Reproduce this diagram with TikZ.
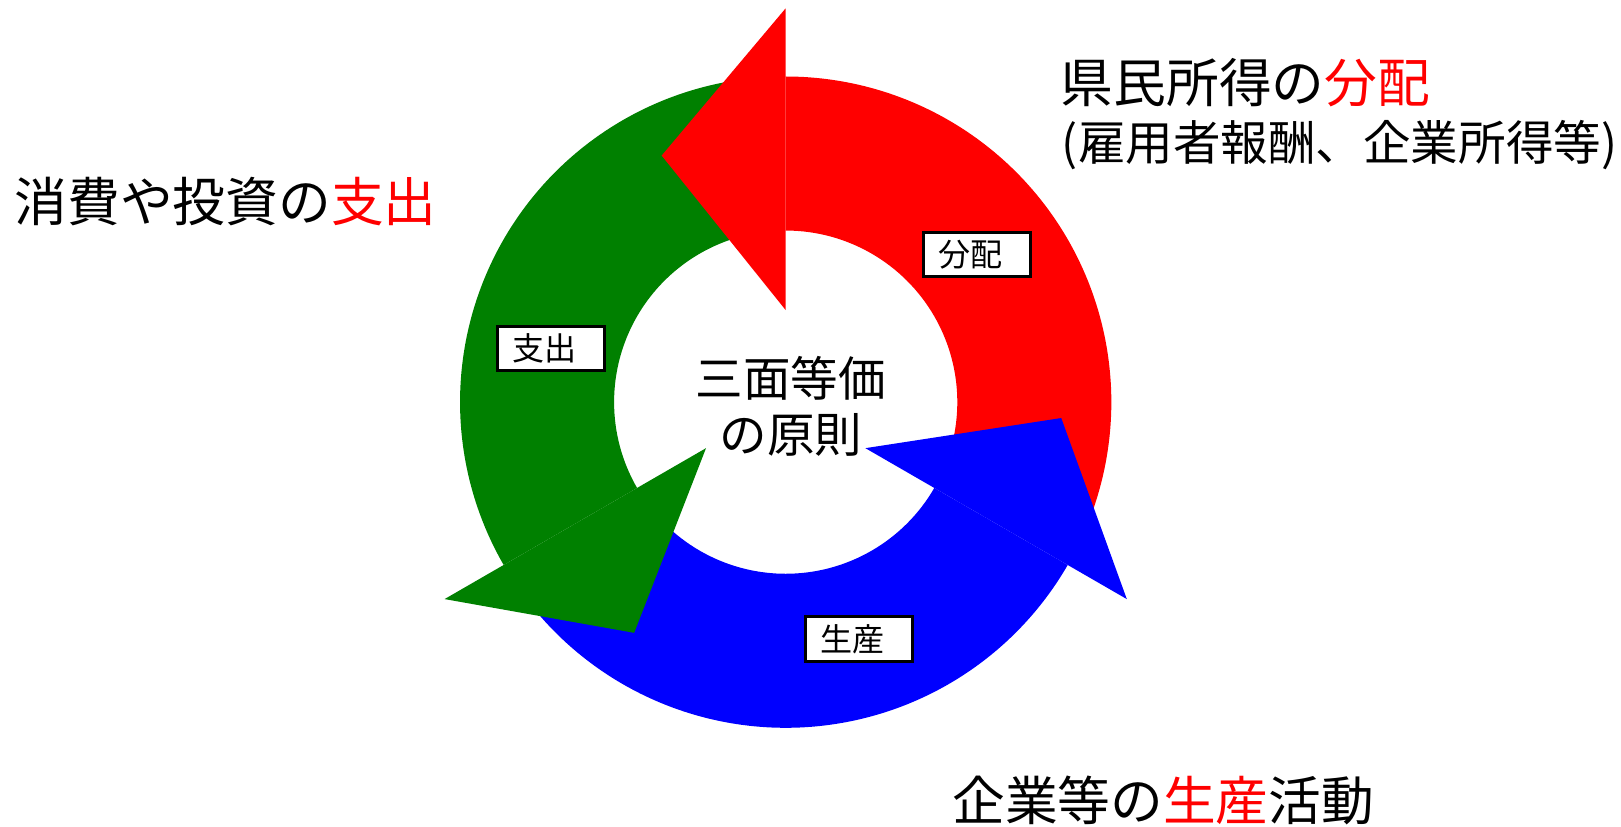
\documentclass[tikz,border=0pt]{standalone}
\usepackage{fontspec}
\newfontfamily\jp{Noto Sans CJK JP}
\definecolor{ared}{RGB}{255,0,0}
\definecolor{agreen}{RGB}{0,128,0}
\definecolor{ablue}{RGB}{0,0,255}
\begin{document}
\begin{tikzpicture}[x=1pt,y=1pt,
  lbl/.style={draw=black, line width=3pt, fill=white, font=\jp\fontsize{31}{36}\selectfont,
    text width=74pt, align=left, inner xsep=15pt, inner ysep=0pt, minimum height=43pt},
  big/.style={font=\jp\fontsize{51}{60}\selectfont, inner sep=0pt, anchor=west},
  mid/.style={font=\jp\fontsize{46}{54}\selectfont, inner sep=0pt, anchor=west},
  centre/.style={font=\jp\fontsize{46}{54}\selectfont, inner sep=0pt, align=center}]
\useasboundingbox (0,0) rectangle (1568,-799);
\begin{scope}[shift={(760,-389)}]
  % arrow bodies (ring sectors)
  \foreach \a/\c in {0/ared,120/agreen,240/ablue}{
    \fill[\c] ({\a-20}:315pt) arc[start angle=\a-20, end angle=\a+90, radius=315pt]
      -- ({\a+90}:166pt) arc[start angle=\a+90, end angle=\a-20, radius=166pt] -- cycle;
  }
  % arrow heads
  \foreach \a/\c in {0/ared,120/agreen,240/ablue}{
    \fill[\c] ({\a+90}:381pt) -- ({\a+116.7}:267pt) -- ({\a+90}:89pt) -- cycle;
  }
\end{scope}
\node[lbl] (haibun) at (945,-246) {分配};
\node[lbl] (shishutsu) at (533,-337) {支出};
\node[lbl] (seisan) at (831,-618) {生産};
\node[centre] (gensoku) at (765,-393) {三面等価\\の原則};
\node[big] (t1) at (14,-195) {消費や投資の{\color{ared}支出}};
\node[big] (t2) at (1026,-80) {県民所得の{\color{ared}分配}};
\node[mid] (t3) at (1027,-140) {(雇用者報酬、企業所得等)};
\node[big] (t4) at (921,-774) {企業等の{\color{ared}生産}活動};
\end{tikzpicture}
\end{document}
